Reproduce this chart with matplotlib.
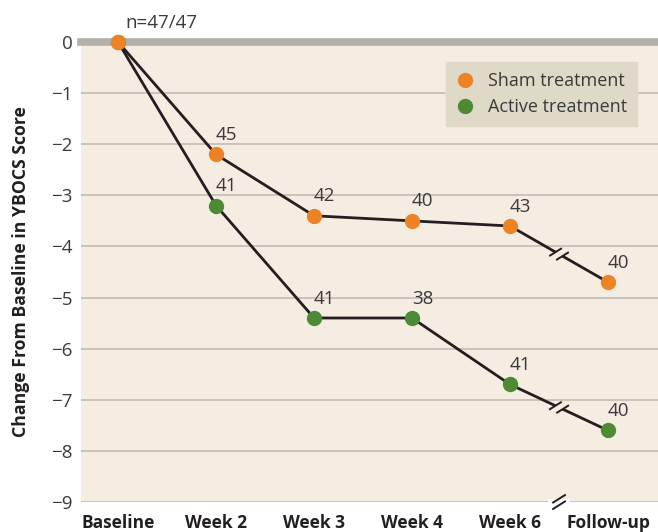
import matplotlib
matplotlib.use("Agg")
import matplotlib.pyplot as plt
from matplotlib.lines import Line2D
from matplotlib.patches import Rectangle
from matplotlib.transforms import IdentityTransform
import numpy as np

plt.rcParams['font.family'] = ['Open Sans', 'DejaVu Sans']

categories = ["Baseline", "Week 2", "Week 3", "Week 4", "Week 6", "Follow-up"]
sham = [0, -2.2, -3.4, -3.5, -3.6, -4.7]
active = [0, -3.2, -5.4, -5.4, -6.7, -7.6]
sham_n = ["", "45", "42", "40", "43", "40"]
active_n = ["", "41", "41", "38", "41", "40"]
baseline_label = "n=47/47"
yticks = [0, -1, -2, -3, -4, -5, -6, -7, -8, -9]

ORANGE = "#ec8427"
GREEN = "#4c8a35"
BG = "#f5ede1"
GRID = "#c8c0b6"
ZERO = "#b4afa9"
LINE = "#231f20"
TXT = "#3a3a3a"
LEG = "#dfdac7"

W, H = 658, 532
fig = plt.figure(figsize=(W / 100, H / 100), dpi=100)
fig.patch.set_facecolor("white")
ax = fig.add_axes([81 / W, 1 - 502 / H, (W - 81) / W, (502 - 42) / H])
ax.set_facecolor(BG)
x = np.arange(len(categories))
ax.set_xlim(-0.378, 5.51)
ax.set_ylim(-9, 0)

for s in ax.spines.values():
    s.set_visible(False)

for yv in yticks[1:]:
    ax.axhline(yv, color=GRID, lw=1.3, zorder=1)
ax.axhline(0, color=ZERO, lw=5.5, zorder=1, clip_on=False)

ax.plot(x, sham, color=LINE, lw=2.0, zorder=3, clip_on=False)
ax.plot(x, active, color=LINE, lw=2.0, zorder=3, clip_on=False)
ax.plot(x, active, 'o', color=GREEN, ms=10, mec=GREEN, zorder=5, clip_on=False, label="Active treatment")
ax.plot(x, sham, 'o', color=ORANGE, ms=10, mec=ORANGE, zorder=6, clip_on=False, label="Sham treatment")

AFS = 13.5
for xi, yi, t in zip(x, sham, sham_n):
    if t:
        ax.annotate(t, (xi, yi), xytext=(7.5, 14), textcoords='offset points',
                    ha='center', va='center', fontsize=AFS, color=TXT, zorder=7)
for xi, yi, t in zip(x, active, active_n):
    if t:
        ax.annotate(t, (xi, yi), xytext=(7.5, 14), textcoords='offset points',
                    ha='center', va='center', fontsize=AFS, color=TXT, zorder=7)
ax.annotate(baseline_label, (x[0], sham[0]), xytext=(5.5, 13.5), textcoords='offset points',
            ha='left', va='center', fontsize=AFS, color=TXT, zorder=7)

ax.set_yticks(yticks)
ax.set_yticklabels(["0" if v == 0 else "\u2212%d" % abs(v) for v in yticks],
                   fontsize=13.5, color=TXT)
ax.set_xticks(x)
ax.set_xticklabels(categories, fontsize=12.5, fontweight='bold', color="#231f20")
ax.tick_params(axis='both', length=0)
ax.tick_params(axis='y', pad=6)
ax.tick_params(axis='x', pad=9)
ax.set_ylabel("Change From Baseline in YBOCS Score", fontsize=12.7, fontweight='bold',
              color="#231f20")
ax.yaxis.set_label_coords(-0.089, 0.5)

leg_handles = [
    Line2D([], [], marker='o', ls='none', color=ORANGE, ms=10, label="Sham treatment"),
    Line2D([], [], marker='o', ls='none', color=GREEN, ms=10, label="Active treatment"),
]
leg = ax.legend(handles=leg_handles, loc='upper right',
                bbox_to_anchor=(637 / W, 1 - 62 / H), bbox_transform=fig.transFigure,
                frameon=True, fancybox=False, fontsize=13, labelcolor=TXT,
                handletextpad=0.75, borderpad=0.55, labelspacing=0.45, handlelength=1.0,
                borderaxespad=0)
leg.get_frame().set_facecolor(LEG)
leg.get_frame().set_edgecolor(LEG)
leg.get_frame().set_alpha(1)
leg.set_zorder(8)

# break marks between Week 6 and Follow-up
ident = IdentityTransform()
def brk(px, py, direction, gap_color):
    d = np.array(direction, float)
    d /= np.hypot(*d)
    half = 4.0
    fig.add_artist(Line2D([px - d[0] * half, px + d[0] * half],
                          [py - d[1] * half, py + d[1] * half],
                          transform=ident, color=gap_color, lw=5, zorder=20,
                          solid_capstyle='butt'))
    ang = np.deg2rad(32)
    t = np.array([np.cos(ang), np.sin(ang)])
    L = 6.5
    for s in (-1, 1):
        cx, cy = px + s * d[0] * half, py + s * d[1] * half
        fig.add_artist(Line2D([cx - t[0] * L, cx + t[0] * L], [cy - t[1] * L, cy + t[1] * L],
                              transform=ident, color=LINE, lw=1.4, zorder=21))

for series in (sham, active):
    p0 = ax.transData.transform((x[4], series[4]))
    p1 = ax.transData.transform((x[5], series[5]))
    m = (p0 + p1) / 2
    brk(m[0], m[1], p1 - p0, BG)

pb = ax.transData.transform(((x[4] + x[5]) / 2, -9))
fig.add_artist(Rectangle((pb[0] - 11, pb[1] - 3), 22, 6, transform=ident,
                         facecolor="white", edgecolor='none', zorder=20))
ang = np.deg2rad(32)
t = np.array([np.cos(ang), np.sin(ang)])
for s in (-1, 1):
    cx, cy = pb[0], pb[1] + s * 3.2
    fig.add_artist(Line2D([cx - t[0] * 7, cx + t[0] * 7], [cy - t[1] * 7, cy + t[1] * 7],
                          transform=ident, color=LINE, lw=1.4, zorder=21))

fig.savefig("out.png", dpi=100)
